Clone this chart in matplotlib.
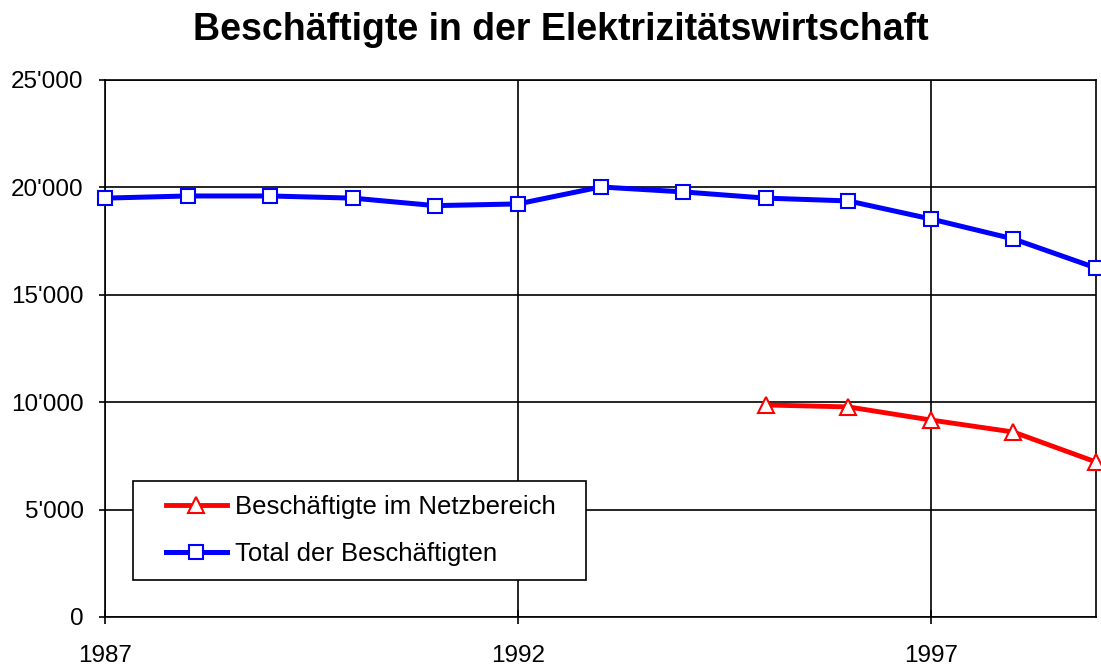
import matplotlib
matplotlib.use("Agg")
import numpy as np
import matplotlib.pyplot as plt
from matplotlib.ticker import FuncFormatter, MultipleLocator
from matplotlib.legend_handler import HandlerLine2D

years = [1987, 1988, 1989, 1990, 1991, 1992, 1993, 1994, 1995, 1996, 1997, 1998, 1999]
total = [19500, 19600, 19600, 19500, 19150, 19230, 20020, 19790, 19500, 19370, 18530, 17600, 16250]
netz_years = [1995, 1996, 1997, 1998, 1999]
netz = [9870, 9780, 9170, 8610, 7215]
xtick_years = [1987, 1992, 1997]
title = "Beschäftigte in der Elektrizitätswirtschaft"
label_netz = "Beschäftigte im Netzbereich"
label_total = "Total der Beschäftigten"

plt.rcParams['font.family'] = ['Liberation Sans', 'DejaVu Sans']


class RightHandler(HandlerLine2D):
    """Draw the legend line only in the right part of the handle box."""
    frac = 0.763

    def get_xdata(self, legend, xdescent, ydescent, width, height, fontsize):
        x0 = -xdescent + width * (1 - self.frac)
        x1 = -xdescent + width
        return np.array([x0, x1]), np.array([(x0 + x1) / 2])


fig = plt.figure(figsize=(11.01, 6.66), dpi=100)
ax = fig.add_axes([0.0954, 0.0736, 0.9001, 0.8063])

ln_n, = ax.plot(netz_years, netz, color='#ff0000', lw=3.5, marker='^', markersize=11,
                markerfacecolor='white', markeredgecolor='#ff0000', markeredgewidth=1.5,
                label=label_netz, zorder=4, clip_on=False)
ln_t, = ax.plot(years, total, color='#0000ff', lw=3.6, marker='s', markersize=10,
                markerfacecolor='white', markeredgecolor='#0000ff', markeredgewidth=1.5,
                label=label_total, zorder=4, clip_on=False)

ax.set_xlim(1987, 1999)
ax.set_ylim(0, 25000)
ax.set_xticks(xtick_years)
ax.yaxis.set_major_locator(MultipleLocator(5000))
ax.yaxis.set_major_formatter(FuncFormatter(lambda v, p: "0" if v == 0 else f"{int(v):,}".replace(",", "'")))
ax.grid(True, color='black', lw=1.2)
ax.set_axisbelow(True)
for s in ax.spines.values():
    s.set_color('black')
    s.set_linewidth(1.2)
ax.tick_params(axis='x', direction='inout', length=10, width=1.2, labelsize=17.5, pad=15.5)
ax.tick_params(axis='y', direction='out', length=4.5, width=1.2, labelsize=17.5, pad=11)

fig.text(561 / 1101, 1 - 40 / 666, title, fontsize=27, fontweight='bold',
         ha='center', va='baseline')

fs = 18.5
leg = ax.legend(handles=[ln_n, ln_t], loc='lower left',
                bbox_to_anchor=(0.028, 0.069, 0.457, 0.184), mode='expand',
                fontsize=fs, frameon=True, fancybox=False, edgecolor='black',
                framealpha=1.0,
                handlelength=3.11, borderpad=0.55, labelspacing=0.87, handletextpad=0.3,
                borderaxespad=0,
                handler_map={ln_n: RightHandler(), ln_t: RightHandler()})
leg.get_frame().set_linewidth(1.2)

fig.savefig("out.png", dpi=100)
